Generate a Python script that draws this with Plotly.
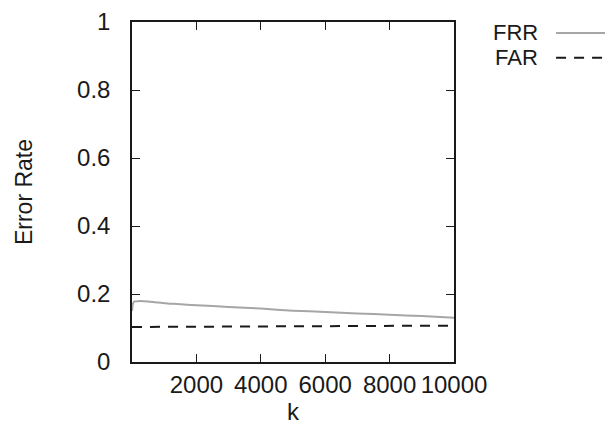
import plotly.graph_objects as go

frr_k = [1, 30, 80, 200, 500, 700, 900, 1100, 1400, 2000, 3000, 4000, 5000, 6000, 7000, 8000, 9000, 10000]
frr_v = [0.150, 0.172, 0.178, 0.179, 0.178, 0.176, 0.174, 0.172, 0.1705, 0.167, 0.162, 0.157, 0.151, 0.147, 0.143, 0.139, 0.135, 0.130]

far_k = [1, 2000, 4000, 6000, 8000, 10000]
far_v = [0.103, 0.104, 0.105, 0.106, 0.106, 0.107]

x_ticks = [2000, 4000, 6000, 8000, 10000]
y_ticks = [0, 0.2, 0.4, 0.6, 0.8, 1]
y_labels = ["0", "0.2", "0.4", "0.6", "0.8", "1"]

FONT = "Liberation Sans, Arial, Helvetica, sans-serif"
TXT = "#1a1a1a"

fig = go.Figure()
fig.add_trace(go.Scatter(x=frr_k, y=frr_v, mode="lines", name="FRR",
                         line=dict(color="#a6a6a6", width=2, shape="spline", smoothing=0.6)))
fig.add_trace(go.Scatter(x=far_k, y=far_v, mode="lines", name="FAR",
                         line=dict(color="#1a1a1a", width=2, dash="10px,8px")))

fig.update_layout(
    width=613, height=430,
    margin=dict(l=124, r=167, t=14, b=76, autoexpand=False),
    paper_bgcolor="white", plot_bgcolor="white",
    showlegend=False,
    font=dict(family=FONT, size=22, color=TXT),
)
fig.update_xaxes(range=[0, 10000], tickvals=x_ticks, ticktext=[str(v) for v in x_ticks],
                 ticks="inside", ticklen=8, tickcolor="#1a1a1a", mirror="ticks",
                 showline=True, linecolor="#1a1a1a", linewidth=1.5, showgrid=False,
                 zeroline=False, automargin=False,
                 title=dict(text="k", standoff=6, font=dict(size=24)),
                 tickfont=dict(size=24))
fig.update_yaxes(range=[0, 1], tickvals=y_ticks, ticktext=y_labels,
                 ticks="inside", ticklen=8, tickcolor="#1a1a1a", mirror="ticks",
                 showline=True, linecolor="#1a1a1a", linewidth=1.5, showgrid=False,
                 zeroline=False, automargin=False, ticklabelstandoff=15,
                 title=dict(text="Error Rate", standoff=38, font=dict(size=23)),
                 tickfont=dict(size=24))

# legend drawn gnuplot-style (text then sample)
leg = [("FRR", dict(color="#a6a6a6", width=2), 0.968),
       ("FAR", dict(color="#1a1a1a", width=2, dash="10px,8px"), 0.895)]
for name, ln, yy in leg:
    fig.add_annotation(xref="paper", yref="paper", x=1.267, y=yy, text=name,
                       showarrow=False, xanchor="right", yanchor="middle",
                       font=dict(size=22, color=TXT, family=FONT))
    fig.add_shape(type="line", xref="paper", yref="paper", x0=1.317, x1=1.509,
                  y0=yy, y1=yy, line=ln)

fig.write_html("out.html")
